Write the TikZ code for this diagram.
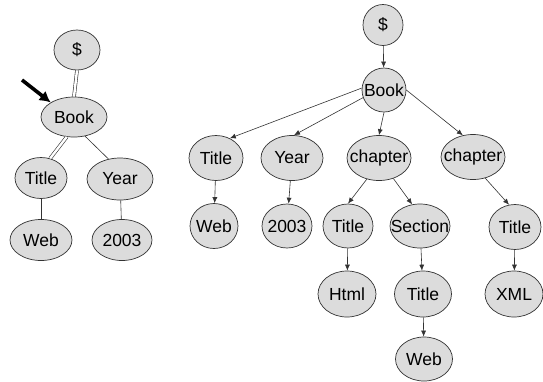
\documentclass[tikz,border=0pt]{standalone}
\usepackage{fontspec}
\setmainfont{Liberation Sans}
\usetikzlibrary{shapes.geometric,arrows.meta}
\definecolor{nodefill}{HTML}{DCDCDC}
\definecolor{edgegray}{HTML}{333333}
% label whose width does not enlarge the ellipse around it
\newcommand{\lbl}[1]{\makebox[0pt]{#1}}
\tikzset{
  tnode/.style={ellipse, draw=edgegray, line width=0.7pt, fill=nodefill, inner sep=0pt,
    font=\fontsize{17.5}{19}\selectfont},
  link/.style={draw=edgegray, line width=0.6pt},
  dlink/.style={draw=edgegray, line width=0.6pt, double=white, double distance=2.4pt},
  arr/.style={link, -{Latex[length=6pt,width=5pt]}},
  pointer/.style={line width=3.6pt, -{Latex[length=11pt,width=12pt]}}
}
\begin{document}
\begin{tikzpicture}[x=1pt,y=-1pt]
\useasboundingbox (0,0) rectangle (543,381);

% query pattern tree
\node[tnode, minimum width=46, minimum height=40] (ld)  at (77,50)  {\lbl{\$}};
\node[tnode, minimum width=66, minimum height=40] (lb)  at (74,117) {\lbl{Book}};
\node[tnode, minimum width=52, minimum height=41] (lt)  at (41,178) {\lbl{Title}};
\node[tnode, minimum width=66, minimum height=42] (ly)  at (120,179) {\lbl{Year}};
\node[tnode, minimum width=62, minimum height=41] (lw)  at (41,240) {\lbl{Web}};
\node[tnode, minimum width=60, minimum height=41] (l3)  at (122,240) {\lbl{2003}};

\draw[dlink] (ld.south) -- (lb.north);
\draw[dlink] (lb.250) -- (lt.65);
\draw[link]  (lb.300) -- (ly.120);
\draw[link]  (lt) -- (lw);
\draw[link]  (ly) -- (l3);

\coordinate (ptail) at (22,80);
\draw[pointer] (ptail) -- (lb.148);

% document tree
\node[tnode, minimum width=40, minimum height=41] (rd)  at (383,25)  {\lbl{\$}};
\node[tnode, minimum width=44, minimum height=44] (rb)  at (384,90)  {\lbl{Book}};
\node[tnode, minimum width=54, minimum height=45] (rt)  at (216,158) {\lbl{Title}};
\node[tnode, minimum width=62, minimum height=45] (ry)  at (292,158) {\lbl{Year}};
\node[tnode, minimum width=64, minimum height=45] (rc1) at (379,158) {\lbl{chapter}};
\node[tnode, minimum width=64, minimum height=45] (rc2) at (473,157) {\lbl{chapter}};
\node[tnode, minimum width=48, minimum height=45] (rw)  at (214,226) {\lbl{Web}};
\node[tnode, minimum width=50, minimum height=44] (r3)  at (287,226) {\lbl{2003}};
\node[tnode, minimum width=50, minimum height=44] (rt2) at (348,226) {\lbl{Title}};
\node[tnode, minimum width=60, minimum height=44] (rs)  at (420,226) {\lbl{Section}};
\node[tnode, minimum width=58, minimum height=46] (rh)  at (347,294) {\lbl{Html}};
\node[tnode, minimum width=57, minimum height=46] (rt3) at (423,294) {\lbl{Title}};
\node[tnode, minimum width=57, minimum height=44] (rw2) at (424,359) {\lbl{Web}};
\node[tnode, minimum width=52, minimum height=45] (rt4) at (515,227) {\lbl{Title}};
\node[tnode, minimum width=58, minimum height=46] (rx)  at (514,294) {\lbl{XML}};

\draw[arr] (rd) -- (rb);
\draw[arr] (rb.175) -- (rt.55);
\draw[arr] (rb.200) -- (ry.85);
\draw[arr] (rb.south) -- (rc1.north);
\draw[arr] (rb.0) -- (rc2.115);
\draw[arr] (rt) -- (rw);
\draw[arr] (ry) -- (r3);
\draw[arr] (rc1.240) -- (rt2.north);
\draw[arr] (rc1.305) -- (rs.110);
\draw[arr] (rt2) -- (rh);
\draw[arr] (rs) -- (rt3);
\draw[arr] (rt3) -- (rw2);
\draw[arr] (rc2.300) -- (rt4.105);
\draw[arr] (rt4) -- (rx);
\end{tikzpicture}
\end{document}
